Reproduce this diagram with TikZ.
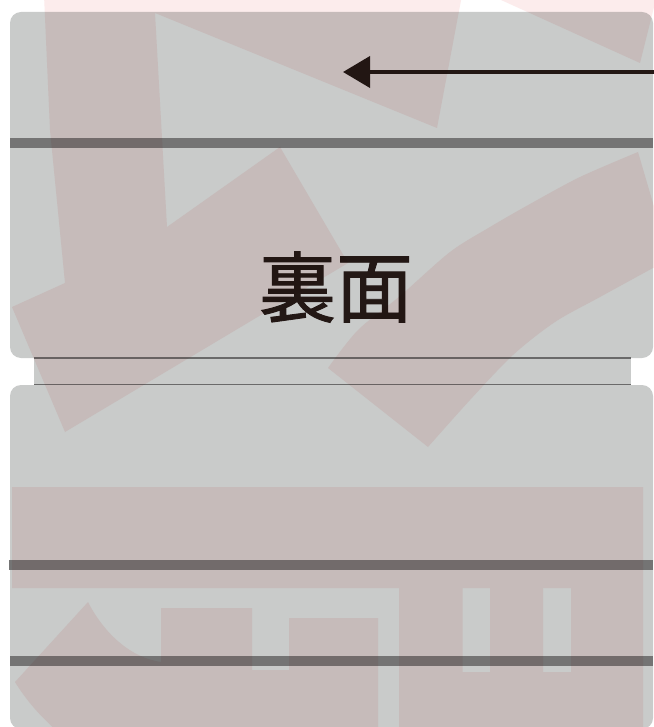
\documentclass[tikz,border=0pt]{standalone}
\usepackage{fontspec}
\usetikzlibrary{arrows.meta}
\newfontfamily\cjkfont[FakeBold=1.2]{Noto Sans CJK JP}
\definecolor{boxgray}{HTML}{C9CBCA}
\definecolor{bargray}{HTML}{747474}
\definecolor{linegray}{HTML}{6A6A6A}
\definecolor{wm}{HTML}{FCECEC}
\definecolor{ink}{HTML}{231815}
\tikzset{
  panel/.style={fill=boxgray, rounded corners=11pt},
  darkbar/.style={fill=bargray},
  stripline/.style={draw=linegray, line width=2.2pt},
  wmshape/.style={fill=wm},
  inkarrow/.style={draw=ink, line width=4pt, -{Triangle[length=27pt,width=31pt]}},
  title/.style={text=ink, inner sep=0pt, font=\cjkfont\fontsize{77}{77}\selectfont}
}
\begin{document}
\begin{tikzpicture}[x=1pt,y=-1pt]
\useasboundingbox (0,0) rectangle (653,727);
\fill[white] (0,0) rectangle (653,727);
% panels
\fill[panel] (10,12) rectangle (653,358);
\fill[boxgray] (34,358) rectangle (631,385);
\draw[stripline] (34,358) -- (631,358);
\draw[stripline] (34,385) -- (631,385);
\fill[panel] (10,385) rectangle (653,729);
% bars
\fill[darkbar] (10,138) rectangle (653,148);
\fill[darkbar] (9,560) rectangle (653,570);
\fill[darkbar] (10,656) rectangle (653,666);
% label and arrow
\node[title] (label) at (336,287) {裏面};
\coordinate (arrowstart) at (656,72);
\coordinate (arrowtip) at (343,72);
\draw[inkarrow] (arrowstart) -- (arrowtip);
% watermark
\begin{scope}[blend mode=multiply]
\fill[wmshape] (44,-5) -- (462,-5) -- (437,128) -- (155,13) -- (167,227) -- (280,147) -- (348,263) -- (65,432) -- (12,307) -- (65,283) -- (50,130) -- cycle;
\fill[wmshape] (490,-5) -- (657,-5) -- (640,63) -- cycle;
\fill[wmshape] plot[smooth] coordinates {(328,368) (358,330) (400,296) (450,252) (490,227) (530,204) (580,177) (638,152)} -- (672,268) -- plot[smooth] coordinates {(653,268) (600,297) (555,322) (513,355) (470,400) (428,447)} -- cycle;
\fill[wmshape, even odd rule] (12,487) -- (643,487) -- (643,732) -- (399,732) -- (399,588) -- (12,588) -- cycle
  (462.5,588) rectangle (490,672) (543,588) rectangle (571,672);
\fill[wmshape] (88,602) .. controls (105,635) and (132,658) .. (161,662) -- (161,608) -- (252,608) -- (252,670) -- (289,670) -- (289,618) -- (378,618) -- (378,732) -- (58,732) .. controls (40,716) and (26,700) .. (15,682) -- cycle;
\end{scope}
\end{tikzpicture}
\end{document}
